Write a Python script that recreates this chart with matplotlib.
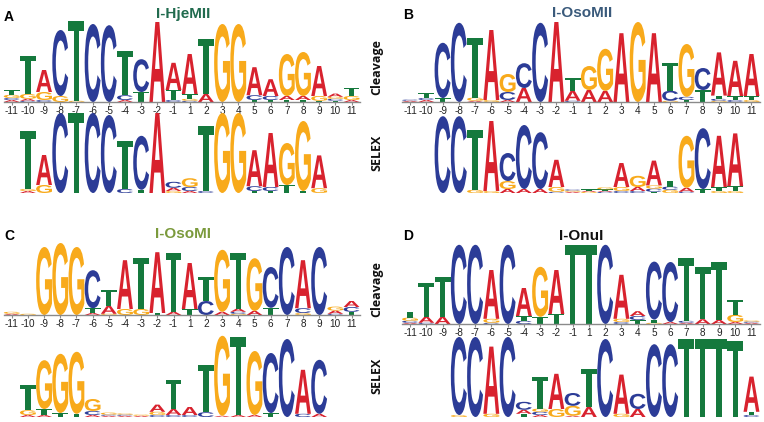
import matplotlib
matplotlib.use("Agg")
import matplotlib.pyplot as plt
from matplotlib.textpath import TextPath
from matplotlib.font_manager import FontProperties
from matplotlib.patches import PathPatch
from matplotlib.path import Path
from matplotlib.transforms import Affine2D

W, H = 764, 422

positions = [str(p) for p in range(-11, 0)] + [str(p) for p in range(1, 12)]

# information content (bits) per column, one dict per position -11..11
hjemii_cleavage = [
    {"A": .05, "C": .05, "G": .08, "T": .12},
    {"A": .05, "C": .03, "G": .12, "T": .95},
    {"C": .05, "G": .2, "A": .55},
    {"G": .15, "C": 1.65},
    {"G": .03, "T": 2.0},
    {"C": 1.95},
    {"C": 1.92},
    {"A": .05, "C": .12, "T": 1.1},
    {"T": .25, "C": .82},
    {"A": 2.0},
    {"C": .05, "T": .25, "A": .68},
    {"G": .05, "C": .03, "T": .12, "A": 1.0},
    {"A": .2, "T": 1.38},
    {"G": 1.95},
    {"G": 1.95},
    {"T": .05, "C": .12, "A": .7},
    {"T": .05, "C": .1, "A": .42},
    {"T": .05, "A": .1, "G": 1.05},
    {"T": .05, "A": .1, "G": 1.1},
    {"T": .03, "G": .12, "A": .75},
    {"T": .03, "C": .05, "G": .05, "A": .08},
    {"A": .05, "G": .1, "T": .2},
]
hjemii_selex = [
    {},
    {"A": .05, "G": .05, "T": 1.45},
    {"G": .2, "A": .75},
    {"C": 2.0},
    {"T": 2.0},
    {"C": 2.0},
    {"C": 1.95},
    {"C": .1, "T": 1.2},
    {"T": .08, "C": 1.35},
    {"A": 2.0},
    {"G": .05, "A": .08, "C": .15},
    {"A": .05, "C": .1, "G": .22},
    {"C": .05, "T": 1.62},
    {"G": 2.0},
    {"G": 2.0},
    {"T": .05, "C": .12, "A": .9},
    {"T": .05, "C": .1, "A": 1.35},
    {"T": .2, "G": 1.05},
    {"T": .05, "G": 1.75},
    {"G": .12, "A": .82},
    {},
    {},
]
osomii_cleavage = [
    {"A": .03, "C": .03},
    {"A": .05, "C": .05, "T": .12},
    {"T": .1, "C": 1.38},
    {"C": 1.98},
    {"A": .03, "G": .08, "T": 1.5},
    {"G": .05, "A": 1.75},
    {"A": .05, "C": .2, "G": .45},
    {"A": .35, "C": .62},
    {"C": 1.98},
    {"A": 2.0},
    {"C": .03, "A": .25, "T": .32},
    {"A": .3, "G": .6},
    {"A": .28, "G": 1.05},
    {"A": 1.72},
    {"G": 2.0},
    {"A": 1.72},
    {"G": .03, "C": .25, "T": .7},
    {"T": .05, "C": .08, "G": 1.32},
    {"T": .3, "C": .55},
    {"G": .03, "C": .05, "T": .08, "A": 1.08},
    {"C": .05, "T": .1, "A": .88},
    {"G": .05, "T": .1, "A": 1.05},
]
osomii_selex = [
    {},
    {},
    {"C": 1.92},
    {"C": 1.92},
    {"G": .08, "T": 1.5},
    {"G": .05, "A": 1.75},
    {"A": .1, "G": .2, "C": .7},
    {"A": .1, "C": 1.6},
    {"A": .1, "C": 1.42},
    {"C": .03, "G": .12, "A": .68},
    {"A": .03, "G": .03, "C": .03},
    {"G": .03, "A": .03, "T": .03},
    {"C": .03, "G": .05, "A": .03, "T": .03},
    {"C": .05, "G": .1, "A": .6},
    {"C": .05, "A": .1, "G": .28},
    {"T": .03, "C": .08, "G": .08, "A": .62},
    {"G": .08, "C": .08, "T": .15},
    {"C": .03, "A": .1, "G": 1.3},
    {"T": .1, "C": 1.52},
    {"G": .05, "T": .1, "A": 1.28},
    {"G": .05, "T": .12, "A": 1.32},
    {},
]
osomi_cleavage = [
    {"A": .03, "G": .05},
    {"G": .03},
    {"G": 1.7},
    {"G": 1.8},
    {"G": 1.7},
    {"A": .05, "T": .12, "C": .95},
    {"G": .03, "A": .2, "T": .4},
    {"G": .15, "A": 1.22},
    {"G": .15, "T": 1.28},
    {"T": .05, "A": 1.52},
    {"A": .08, "T": 1.48},
    {"T": .15, "A": 1.15},
    {"C": .35, "T": .6},
    {"A": .08, "G": 1.55},
    {"G": .03, "C": .05, "A": .08, "T": 1.4},
    {"A": .1, "G": 1.32},
    {"T": .18, "C": 1.02},
    {"C": 1.7},
    {"G": .05, "C": .12, "A": 1.2},
    {"C": 1.7},
    {"C": .03, "A": .08, "G": .1},
    {"T": .08, "C": .12, "A": .15},
]
osomi_selex = [
    {},
    {"A": .05, "G": .12, "T": .62},
    {"A": .05, "T": .15, "G": 1.22},
    {"T": .1, "G": 1.48},
    {"T": .08, "G": 1.55},
    {"A": .05, "C": .1, "G": .3},
    {"A": .03, "C": .03, "G": .05},
    {"A": .03, "C": .03, "G": .03},
    {"A": .03, "G": .03},
    {"C": .05, "G": .08, "A": .18},
    {"C": .05, "A": .15, "T": .72},
    {"C": .05, "A": .2},
    {"C": .12, "T": 1.18},
    {"A": .03, "G": 2.0},
    {"A": .05, "T": 1.95},
    {"A": .05, "G": 1.6},
    {"T": .1, "C": 1.5},
    {"C": 1.95},
    {"C": .08, "A": 1.1},
    {"A": .08, "C": 1.35},
    {},
    {},
]
onui_cleavage = [
    {"A": .03, "C": .05, "G": .08, "T": .15},
    {"C": .03, "A": .15, "T": .85},
    {"A": .18, "T": 1.0},
    {"C": 1.98},
    {"C": 1.98},
    {"C": .03, "G": .1, "A": 1.22},
    {"C": 1.98},
    {"C": .08, "T": .12, "A": .7},
    {"T": .18, "G": 1.25},
    {"T": .25, "A": 1.1},
    {"T": 1.98},
    {"T": 1.98},
    {"C": 1.98},
    {"C": .05, "G": .08, "A": 1.1},
    {"T": .1, "C": .1, "A": .12},
    {"G": .03, "T": .08, "C": 1.45},
    {"A": .05, "C": 1.5},
    {"A": .03, "C": .05, "T": 1.58},
    {"A": .12, "T": 1.3},
    {"A": .1, "T": 1.45},
    {"A": .05, "G": .18, "T": .38},
    {"A": .03, "C": .03, "G": .03},
]
onui_selex = [
    {},
    {},
    {},
    {"G": .05, "C": 1.95},
    {"C": 2.0},
    {"G": .08, "A": 1.68},
    {"C": 2.0},
    {"T": .08, "A": .1, "C": .2},
    {"A": .05, "C": .08, "G": .08, "T": .8},
    {"G": .2, "A": .88},
    {"A": .03, "G": .25, "C": .32},
    {"A": .25, "T": .95},
    {"C": 1.95},
    {"G": .08, "A": .98},
    {"A": .2, "C": .38},
    {"C": 1.82},
    {"C": 1.82},
    {"T": 1.95},
    {"T": 1.95},
    {"T": 1.95},
    {"T": 1.9},
    {"C": .05, "T": .08, "A": .88},
]

COLORS = {"A": "#d8222e", "C": "#2c3c97", "G": "#f8aa1b", "T": "#15793d"}
LOGO_FONT = FontProperties(family="Liberation Sans", weight="bold")
# heavy T like the Helvetica glyph in the logo (unit box)
T_PATH = Path([(0, 1), (1, 1), (1, 0.87), (0.67, 0.87), (0.67, 0),
               (0.33, 0), (0.33, 0.87), (0, 0.87), (0, 1)], closed=True)
_glyphs = {}


def glyph(letter):
    if letter not in _glyphs:
        if letter == "T":
            tp = T_PATH
        else:
            tp = TextPath((0, 0), letter, size=1, prop=LOGO_FONT)
        _glyphs[letter] = (tp, tp.get_extents())
    return _glyphs[letter]


def draw_letter(ax, letter, x, y, h, width=0.98):
    tp, bb = glyph(letter)
    t = (Affine2D().translate(-bb.x0, -bb.y0)
         .scale(width / bb.width, h / bb.height)
         .translate(x - width / 2, y))
    ax.add_patch(PathPatch(t.transform_path(tp), fc=COLORS[letter],
                           ec="none", lw=0, clip_on=False))


def draw_logo(ax, columns):
    for i, col in enumerate(columns):
        y = 0
        for letter, h in sorted(col.items(), key=lambda kv: kv[1]):
            draw_letter(ax, letter, i, y, h)
            y += h


def logo_axes(fig, left_px, width_px, base_px, show_axis):
    # 1 bit == 40 px
    ax = fig.add_axes([left_px / W, 1 - base_px / H, width_px / W, 80 / H])
    ax.set_xlim(-0.5, 21.5)
    ax.set_ylim(0, 2)
    ax.set_yticks([])
    for s in ("top", "right", "left"):
        ax.spines[s].set_visible(False)
    if show_axis:
        ax.spines["bottom"].set_color("#8a8a8a")
        ax.spines["bottom"].set_linewidth(1.0)
        ax.set_xticks(range(22))
        ax.set_xticklabels(positions, fontsize=7.2, family="Liberation Sans",
                           color="#222222")
        ax.tick_params(axis="x", length=2, width=0.8, color="#8a8a8a", pad=1)
    else:
        ax.spines["bottom"].set_visible(False)
        ax.set_xticks([])
    ax.patch.set_alpha(0)
    return ax


fig = plt.figure(figsize=(W / 100, H / 100), dpi=100)

panels = [
    # label, title, title colour, left, width, cleavage base, selex base, data, title pos
    ("A", "I-HjeMII", "#216b4e", 3.6, 356, 102, 193, hjemii_cleavage, hjemii_selex, 183, 14),
    ("B", "I-OsoMII", "#3a5a7b", 401.9, 357.7, 102, 193, osomii_cleavage, osomii_selex, 582, 13),
    ("C", "I-OsoMI", "#7b9a3c", 3.6, 356, 315, 417, osomi_cleavage, osomi_selex, 183, 234),
    ("D", "I-OnuI", "#111111", 401.9, 357.7, 324, 417, onui_cleavage, onui_selex, 581, 236),
]
label_pos = {"A": (4, 17), "B": (403, 15), "C": (4, 236), "D": (403, 236)}

for lab, title, tcol, left, width, cbase, sbase, cl, sx, tx, ty in panels:
    ax1 = logo_axes(fig, left, width, cbase, True)
    draw_logo(ax1, cl)
    ax2 = logo_axes(fig, left, width, sbase, False)
    draw_logo(ax2, sx)
    fig.text(tx / W, 1 - ty / H, title, ha="center", va="center",
             fontsize=11, fontweight="bold", color=tcol, family="Liberation Sans")
    lx, ly = label_pos[lab]
    fig.text(lx / W, 1 - ly / H, lab, ha="left", va="center",
             fontsize=10, fontweight="bold", color="black", family="Liberation Sans")

for name, ypx in [("Cleavage", 67), ("SELEX", 153), ("Cleavage", 289), ("SELEX", 376)]:
    fig.text(377 / W, 1 - ypx / H, name, rotation=90, ha="center", va="center",
             fontsize=9, fontweight="bold", family="Open Sans", color="#111111")

fig.savefig("out.png", dpi=100)
